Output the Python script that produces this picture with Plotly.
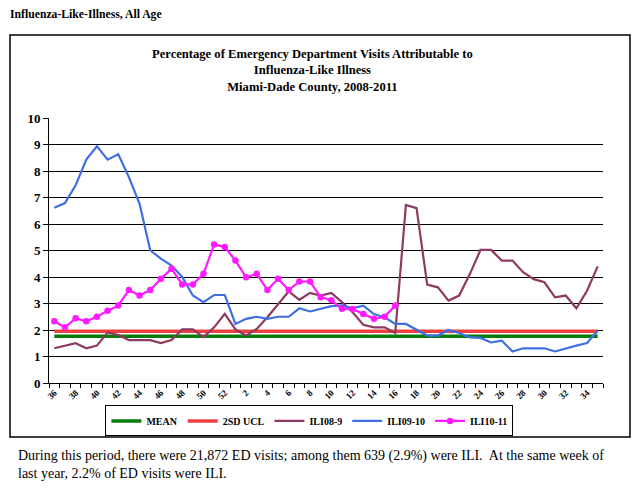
import plotly.graph_objects as go

# week labels (season runs week 36 -> week 35)
weeks = [str(w) for w in list(range(36, 53)) + list(range(1, 36))]

mean_val = 1.76
ucl_val = 1.95

ili08_9 = [1.31, 1.41, 1.50, 1.31, 1.41, 1.91, 1.81, 1.62, 1.62, 1.62,
           1.51, 1.62, 2.02, 2.02, 1.73, 2.10, 2.61, 2.02, 1.79, 2.04,
           2.48, 2.98, 3.46, 3.14, 3.40, 3.30, 3.40, 3.05, 2.67, 2.20,
           2.10, 2.10, 1.89, 6.72, 6.60, 3.71, 3.61, 3.11, 3.30, 4.11,
           5.02, 5.02, 4.62, 4.62, 4.18, 3.92, 3.80, 3.23, 3.30, 2.82,
           3.48, 4.40]

ili09_10 = [6.61, 6.79, 7.46, 8.43, 8.93, 8.43, 8.63, 7.77, 6.76, 5.01,
            4.69, 4.43, 4.00, 3.30, 3.05, 3.32, 3.32, 2.23, 2.42, 2.50,
            2.42, 2.50, 2.50, 2.82, 2.70, 2.80, 2.90, 2.93, 2.82, 2.92,
            2.60, 2.48, 2.23, 2.23, 2.01, 1.79, 1.79, 2.00, 1.89, 1.72,
            1.70, 1.53, 1.60, 1.19, 1.31, 1.31, 1.31, 1.19, 1.31, 1.41,
            1.51, 1.97]

ili10_11 = [2.33, 2.10, 2.44, 2.33, 2.50, 2.73, 2.92, 3.51, 3.30, 3.51,
            3.93, 4.31, 3.72, 3.72, 4.12, 5.23, 5.13, 4.62, 3.99, 4.12,
            3.51, 3.93, 3.51, 3.83, 3.83, 3.24, 3.12, 2.80, 2.79, 2.60,
            2.42, 2.50, 2.92]

serif = "Liberation Serif"

fig = go.Figure()
fig.add_trace(go.Scatter(x=weeks, y=[mean_val] * len(weeks), name="MEAN",
                         mode="lines", line=dict(color="#067D0A", width=3.5)))
fig.add_trace(go.Scatter(x=weeks, y=[ucl_val] * len(weeks), name="2SD UCL",
                         mode="lines", line=dict(color="#EE4040", width=3.5)))
fig.add_trace(go.Scatter(x=weeks, y=ili08_9, name="ILI08-9",
                         mode="lines", line=dict(color="#8E3A63", width=2.2)))
fig.add_trace(go.Scatter(x=weeks, y=ili09_10, name="ILI09-10",
                         mode="lines", line=dict(color="#3F6FE3", width=2.2)))
fig.add_trace(go.Scatter(x=weeks[:len(ili10_11)], y=ili10_11, name="ILI10-11",
                         mode="lines+markers", line=dict(color="#FF1AFF", width=2.2),
                         marker=dict(size=6.5, color="#FF1AFF")))

ticktext = [w if i % 2 == 0 else "" for i, w in enumerate(weeks)]

fig.update_xaxes(type="category", categoryorder="array", categoryarray=weeks,
                 range=[-0.5, len(weeks) - 0.5],
                 tickmode="array", tickvals=weeks, ticktext=ticktext,
                 tickangle=-45, tickson="boundaries", ticks="outside", ticklen=4,
                 tickcolor="black", showline=True, linecolor="black", linewidth=1,
                 showgrid=False, automargin=False,
                 tickfont=dict(family=serif, size=9, color="black", weight="bold"))
fig.update_yaxes(range=[0, 10], dtick=1, ticks="outside", ticklen=5, tickcolor="black",
                 showline=True, linecolor="black", linewidth=1, automargin=False,
                 showgrid=True, gridcolor="black", gridwidth=1, zeroline=False,
                 tickfont=dict(family=serif, size=13, color="black", weight="bold"))

fig.update_layout(
    width=640, height=488,
    margin=dict(l=49, r=37, t=118, b=105),
    plot_bgcolor="white", paper_bgcolor="white",
    font=dict(family=serif, color="black"),
    legend=dict(orientation="h", x=0.47, xanchor="center", y=-0.143, yanchor="middle",
                bordercolor="black", borderwidth=1, itemwidth=30,
                font=dict(family=serif, size=10, color="black", weight="bold"),
                tracegroupgap=0),
    shapes=[dict(type="rect", xref="paper", yref="paper",
                 x0=-0.0704, x1=1.0487, y0=-0.204, y1=1.313,
                 line=dict(color="black", width=1.5), layer="below")],
    annotations=[
        dict(text="<b>Influenza-Like-Illness, All Age</b>", xref="paper", yref="paper",
             x=-0.074, y=1.392, xanchor="left", yanchor="middle", showarrow=False,
             font=dict(family=serif, size=11.7)),
        dict(text="<b>Percentage of Emergency Department Visits Attributable to<br>"
                  "Influenza-Like Illness<br>Miami-Dade County, 2008-2011</b>",
             xref="paper", yref="paper", x=0.475, y=1.181, xanchor="center",
             yanchor="middle", showarrow=False, font=dict(family=serif, size=12.6)),
        dict(text="During this period, there were 21,872 ED visits; among them 639 (2.9%) "
                  "were ILI.  At the same week of<br>last year, 2.2% of ED visits were ILI.",
             xref="paper", yref="paper", x=-0.06, y=-0.309, xanchor="left",
             yanchor="middle", align="left", showarrow=False,
             font=dict(family=serif, size=14)),
    ],
)

fig.write_html("out.html", config={"displayModeBar": False},
               post_script="document.body.style.margin='0';")
